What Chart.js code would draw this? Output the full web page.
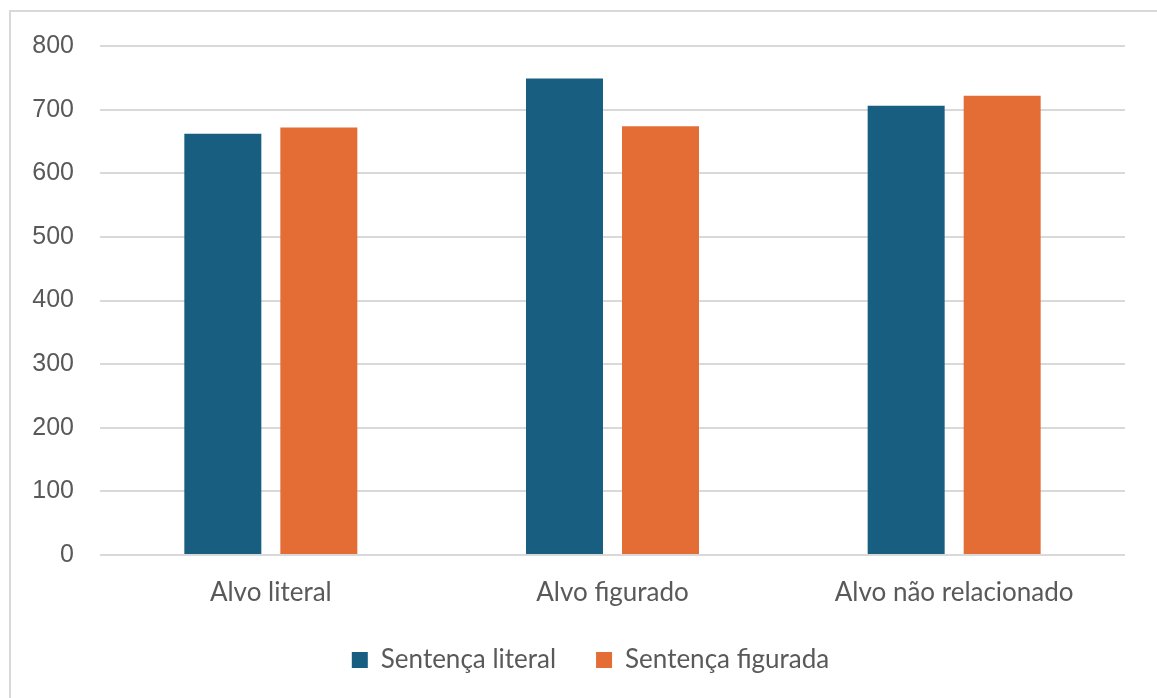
<!DOCTYPE html>
<html>
<head>
<meta charset="utf-8">
<script src="https://cdn.jsdelivr.net/npm/chart.js@4"></script>
<style>
  html, body { margin: 0; padding: 0; background: #fff; }
  #wrap { width: 1157px; height: 698px; position: relative; }
</style>
</head>
<body>
<div id="wrap"><canvas id="myChart"></canvas></div>
<script>
const categories = ["Alvo literal", "Alvo figurado", "Alvo não relacionado"];
const seriesNames = ["Sentença literal", "Sentença figurada"];
const literalValues = [662, 749, 706];
const figuradaValues = [672, 674, 722];
const yTicks = [0, 100, 200, 300, 400, 500, 600, 700, 800];

// light grey frame around the chart, like the original export
const framePlugin = {
  id: "frame",
  beforeDraw(chart) {
    const c = chart.ctx;
    c.save();
    c.strokeStyle = "#d9d9d9";
    c.lineWidth = 2;
    c.strokeRect(10, 11, chart.width + 20, chart.height + 20);
    c.restore();
  },
  // legend in the original sits a bit right of centre
  afterLayout(chart) {
    if (chart.legend) {
      chart.legend.left += 28;
      chart.legend.right += 28;
    }
  },
};

var ctx = document.getElementById("myChart").getContext("2d");
var myChart = new Chart(ctx, {
  type: "bar",
  data: {
    labels: categories,
    datasets: [
      {
        label: seriesNames[0],
        data: literalValues,
        backgroundColor: "#175E81",
        barPercentage: 0.802,
        categoryPercentage: 0.562,
      },
      {
        label: seriesNames[1],
        data: figuradaValues,
        backgroundColor: "#E46D35",
        barPercentage: 0.802,
        categoryPercentage: 0.562,
      },
    ],
  },
  options: {
    responsive: true,
    maintainAspectRatio: false,
    animation: false,
    layout: {
      padding: { top: 46, right: 32, bottom: 15, left: 0 },
    },
    scales: {
      y: {
        min: 0,
        max: 800,
        afterBuildTicks: (scale) => {
          scale.ticks = yTicks.map((v) => ({ value: v }));
        },
        afterFit: (scale) => {
          scale.width = 100;
        },
        border: { display: false },
        grid: { color: "#d9d9d9", lineWidth: 2, drawTicks: false },
        ticks: {
          padding: 26,
          color: "#595959",
          font: { family: "Liberation Sans", size: 25 },
        },
      },
      x: {
        afterFit: (scale) => {
          scale.height = 52;
        },
        border: { display: false },
        grid: { display: false, drawTicks: false },
        ticks: {
          padding: 22,
          color: "#595959",
          font: { family: "Lato", size: 26 },
        },
      },
    },
    plugins: {
      legend: {
        position: "bottom",
        labels: {
          boxWidth: 16,
          boxHeight: 16,
          padding: 40,
          color: "#595959",
          font: { family: "Lato", size: 26 },
        },
      },
      tooltip: { enabled: false },
    },
  },
  plugins: [framePlugin],
});
</script>
</body>
</html>
